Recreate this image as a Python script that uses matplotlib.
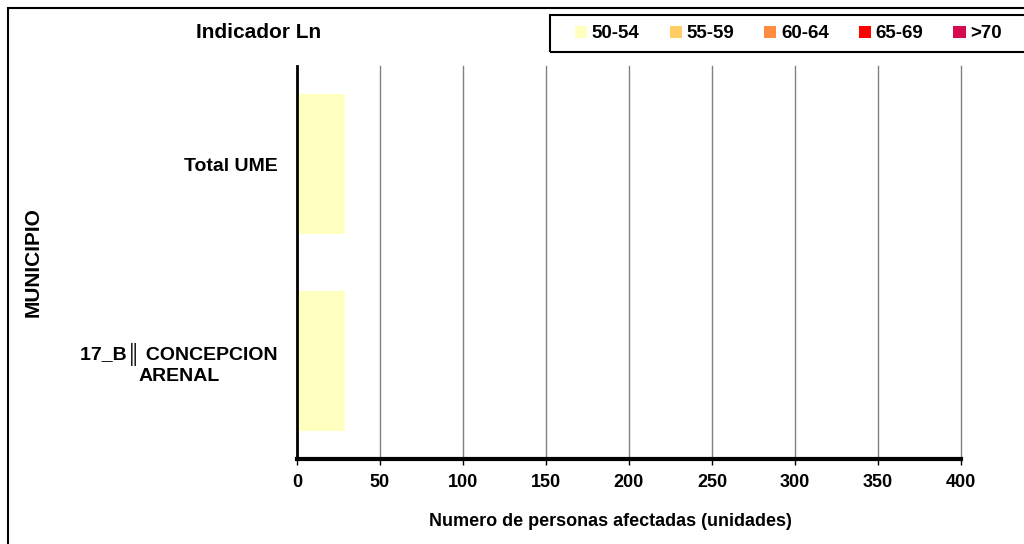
import numpy as np
import matplotlib
matplotlib.use('Agg')
import matplotlib.pyplot as plt
from matplotlib.patches import Rectangle, Patch

plt.rcParams['font.family'] = ['Liberation Sans', 'DejaVu Sans']
plt.rcParams['font.weight'] = 'bold'

# data
municipios = ['17_B\u2551 CONCEPCION\nARENAL', 'Total UME']
rangos = ['50-54', '55-59', '60-64', '65-69', '>70']
valores = {
    '50-54': [29, 29],
    '55-59': [0, 0],
    '60-64': [0, 0],
    '65-69': [0, 0],
    '>70': [0, 0],
}
colores = ['#FFFFC0', '#FFCC66', '#FF8C40', '#FF0000', '#D70A4B']
xticks = [0, 50, 100, 150, 200, 250, 300, 350, 400]

fig = plt.figure(figsize=(10.24, 5.44), dpi=100)
ax = fig.add_axes([297 / 1024, 1 - 459 / 544, (961 - 297) / 1024, (459 - 66) / 544])

ypos = np.arange(len(municipios))
left = np.zeros(len(municipios))
for r, c in zip(rangos, colores):
    v = np.array(valores[r], dtype=float)
    ax.barh(ypos, v, left=left, height=0.71, color=c, zorder=2)
    left += v

ax.set_xlim(0, 400)
ax.set_ylim(-0.5, 1.5)
ax.set_xticks(xticks)
ax.set_xticklabels([str(t) for t in xticks], fontsize=13, fontweight='bold')
ax.set_yticks(ypos)
ax.set_yticklabels(municipios, fontsize=14, fontweight='bold', ha='right', multialignment='center')
ax.tick_params(axis='y', length=0, pad=14)
ax.tick_params(axis='x', length=4, width=1, direction='out', pad=7)
ax.xaxis.grid(True, color='#808080', linewidth=1, zorder=0)
for gl in ax.get_xgridlines():
    gl.set_clip_on(False)
ax.set_axisbelow(True)
for s in ['top', 'right']:
    ax.spines[s].set_visible(False)
ax.spines['left'].set_linewidth(2)
ax.spines['bottom'].set_linewidth(3)

fig.text(33 / 1024, 1 - 262 / 544, 'MUNICIPIO', rotation=90, ha='center', va='center',
         fontsize=15, fontweight='bold')
fig.text(610 / 1024, 1 - 522 / 544, 'Numero de personas afectadas (unidades)', ha='center',
         va='center', fontsize=13, fontweight='bold')
fig.text(259 / 1024, 1 - 33 / 544, 'Indicador Ln', ha='center', va='center',
         fontsize=15, fontweight='bold')

handles = [Patch(facecolor=c, edgecolor='none', label=r) for r, c in zip(rangos, colores)]
leg = fig.legend(handles=handles, loc='center left', bbox_to_anchor=(573 / 1024, 1 - 34 / 544),
                 ncol=5, frameon=False, borderaxespad=0, borderpad=0.1,
                 handlelength=0.65, handleheight=0.65, handletextpad=0.25, columnspacing=1.6,
                 prop={'weight': 'bold', 'size': 13.5})

# legend box and outer chart border
fig.patches.append(Rectangle((550 / 1024, 1 - 52 / 544), 0.6, 37 / 544, transform=fig.transFigure,
                             fill=False, edgecolor='black', linewidth=1.5))
fig.patches.append(Rectangle((8 / 1024, -0.1), 1.1, 1 - 8 / 544 + 0.1, transform=fig.transFigure,
                             fill=False, edgecolor='black', linewidth=1.5))

fig.savefig('out.png', dpi=100)
